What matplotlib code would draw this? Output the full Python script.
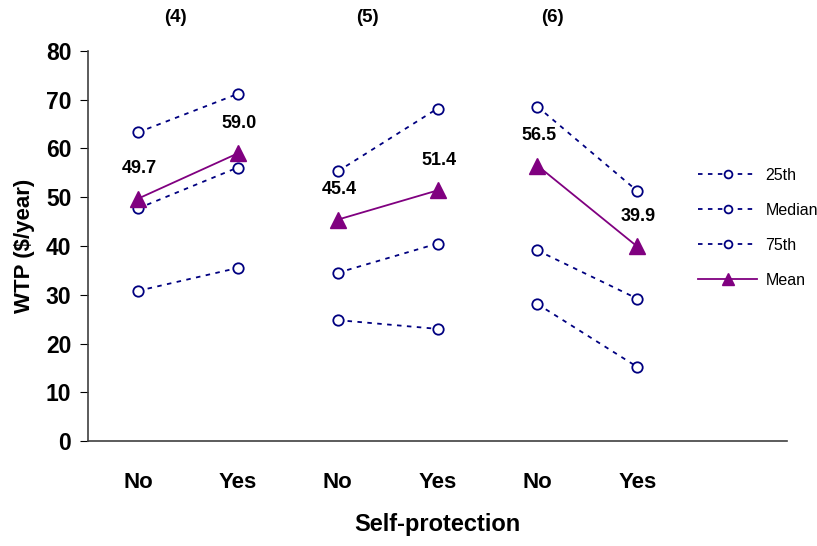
import numpy as np
import matplotlib.pyplot as plt

plt.rcParams['font.family'] = ['Liberation Sans', 'DejaVu Sans']

# categories: (4) No/Yes, (5) No/Yes, (6) No/Yes
cats = ['No', 'Yes', 'No', 'Yes', 'No', 'Yes']
groups = ['(4)', '(5)', '(6)']
p25 = [30.8, 35.5, 24.8, 23.0, 28.1, 15.2]
median = [47.7, 56.1, 34.5, 40.5, 39.1, 29.2]
p75 = [63.3, 71.2, 55.3, 68.2, 68.6, 51.3]
mean = [49.7, 59.0, 45.4, 51.4, 56.5, 39.9]

navy = '#000080'
purple = '#800080'

fig = plt.figure(figsize=(8.17, 5.46), dpi=100)
ax = fig.add_axes([0.1077, 0.1923, 0.8556, 0.7143])

x = np.arange(len(cats))
for g in range(3):
    xs = x[2*g:2*g+2]
    for vals, name in [(p25, '25th'), (median, 'Median'), (p75, '75th')]:
        ax.plot(xs, vals[2*g:2*g+2], color=navy, linestyle=(0, (2.5, 3)), lw=1.3,
                marker='o', ms=7.5, mfc='white', mec=navy, mew=1.3,
                label=name if g == 0 else None)
    ax.plot(xs, mean[2*g:2*g+2], color=purple, lw=1.3, marker='^', ms=11,
            mfc=purple, mec=purple, label='Mean' if g == 0 else None, zorder=3)

for xi, v in zip(x, mean):
    ax.annotate('%.1f' % v, (xi, v), xytext=(1, 21.5), textcoords='offset points',
                ha='center', va='center', fontsize=13, fontweight='bold')

ax.set_xlim(-0.5, 6.5)
ax.set_ylim(0, 80)
ax.set_yticks(range(0, 81, 10))
ax.set_xticks(x)
ax.set_xticklabels(cats)
ax.tick_params(axis='x', length=0, pad=22, labelsize=16)
ax.tick_params(axis='y', length=6, direction='out', pad=6, labelsize=16.5)
for lab in ax.get_xticklabels() + ax.get_yticklabels():
    lab.set_fontweight('bold')
for s in ['top', 'right']:
    ax.spines[s].set_visible(False)
for s in ['left', 'bottom']:
    ax.spines[s].set_color('#404040')
    ax.spines[s].set_linewidth(1.2)

ax.set_ylabel('WTP ($/year)', fontsize=16, fontweight='bold', labelpad=8)
ax.set_xlabel('Self-protection', fontsize=17, fontweight='bold', labelpad=15)

for gx, name in zip([175, 367, 552], groups):
    fig.text(gx / 817, 1 - 18 / 546, name, ha='center', va='center',
             fontsize=13.5, fontweight='bold')

leg = ax.legend(loc='center left', bbox_to_anchor=(684 / 817, 1 - 228 / 546),
                bbox_transform=fig.transFigure, frameon=False, fontsize=11.5,
                handlelength=3.7, labelspacing=1.25, handletextpad=0.5,
                markerscale=0.75)

fig.savefig('out.png', dpi=100)
